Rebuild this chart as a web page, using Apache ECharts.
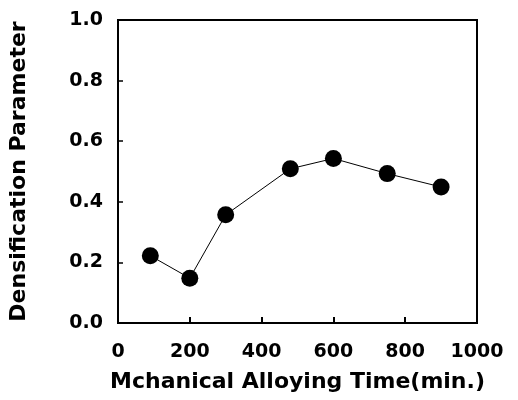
<!DOCTYPE html>
<html>
<head>
<meta charset="utf-8">
<script src="https://cdn.jsdelivr.net/npm/echarts@6/dist/echarts.min.js"></script>
<style>
  html, body { margin: 0; padding: 0; background: #fff; }
  #chart { width: 518px; height: 400px; }
</style>
</head>
<body>
<div id="chart"></div>
<script>
// milling time (min.) vs densification parameter
var times = [90, 200, 300, 480, 600, 750, 900];
var density = [0.222, 0.148, 0.357, 0.509, 0.543, 0.493, 0.449];

var pts = [];
for (var i = 0; i < times.length; i++) {
    pts.push([times[i], density[i]]);
}

var font = 'DejaVu Sans';
var myChart = echarts.init(document.getElementById('chart'));

var option = {
    backgroundColor: '#fff',
    animation: false,
    grid: {
        left: 116, right: 41, top: 20, bottom: 77,
        show: true, borderColor: '#000', borderWidth: 2, backgroundColor: 'transparent'
    },
    xAxis: {
        type: 'value',
        min: 0, max: 1000, interval: 200,
        name: 'Mchanical Alloying Time(min.)',
        nameLocation: 'middle',
        nameGap: 48,
        nameTextStyle: { fontFamily: font, fontWeight: 'bold', fontSize: 22, color: '#000' },
        axisLine: { lineStyle: { color: '#000', width: 2 } },
        axisTick: { inside: true, length: 6, lineStyle: { color: '#000', width: 2 } },
        axisLabel: {
            margin: 20, fontFamily: font, fontWeight: 'bold', fontSize: 19, color: '#000',
            formatter: function (v) { return String(v); }
        },
        splitLine: { show: false }
    },
    yAxis: {
        type: 'value',
        min: 0, max: 1, interval: 0.2,
        name: 'Densification Parameter',
        nameLocation: 'middle',
        nameGap: 88,
        nameTextStyle: { fontFamily: font, fontWeight: 'bold', fontSize: 22, color: '#000' },
        axisLine: { lineStyle: { color: '#000', width: 2 } },
        axisTick: { inside: true, length: 5, lineStyle: { color: '#000', width: 1.5 } },
        axisLabel: {
            margin: 15, fontFamily: font, fontWeight: 'bold', fontSize: 19, color: '#000',
            formatter: function (v) { return v.toFixed(1); }
        },
        splitLine: { show: false }
    },
    series: [{
        type: 'line',
        data: pts,
        symbol: 'circle',
        symbolSize: 17,
        itemStyle: { color: '#000' },
        lineStyle: { color: '#000', width: 1 }
    }]
};

myChart.setOption(option);
window.onresize = function () {
    myChart.resize();
};
</script>
</body>
</html>
